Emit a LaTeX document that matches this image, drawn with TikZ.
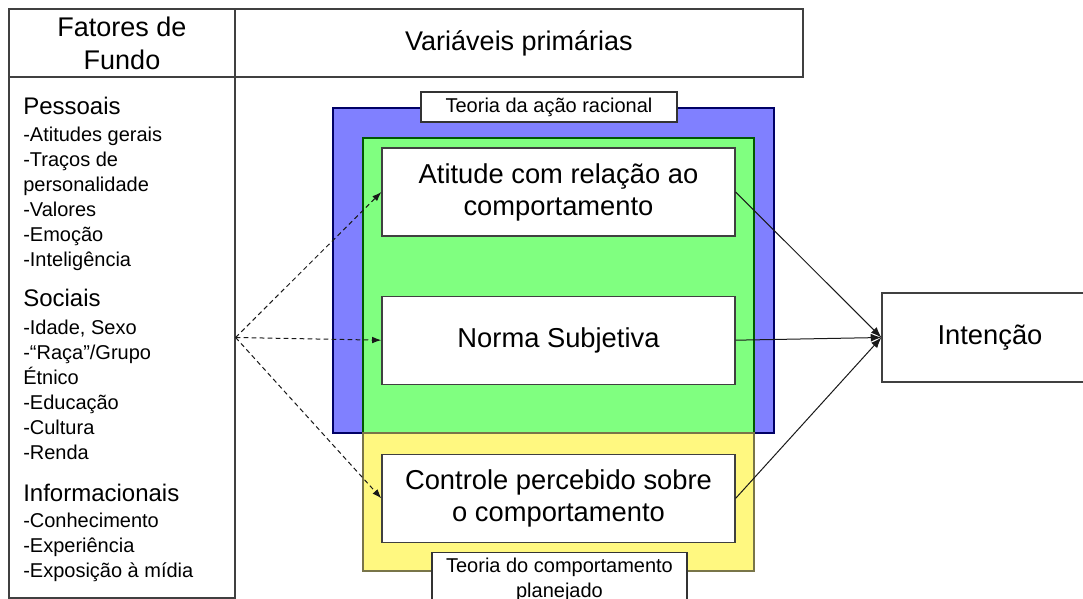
\documentclass[tikz,border=0pt]{standalone}
\usepackage{fontspec}
\setmainfont{Liberation Sans}
\usepackage{tikz}
\usetikzlibrary{positioning,%
  arrows.meta}

\begin{document}
\begin{tikzpicture}
  [x=0.75pt, y=-0.75pt,
   cab/.style={rectangle, draw=black!75, line width=0.9pt,
     align=center, minimum height=51pt, inner sep=0pt,
     font=\fontsize{20.25}{24.75}\selectfont},
   regiao/.style={rectangle, line width=0.8pt, inner sep=0pt},
   var/.style={rectangle, draw=black!75, line width=0.9pt,
     fill=white, align=center, inner sep=0pt,
     minimum width=264.75pt, minimum height=66pt,
     font=\fontsize{20.5}{24}\selectfont},
   teoria/.style={rectangle, draw=black!80, line width=0.8pt,
     fill=white, align=center, inner sep=0pt,
     font=\fontsize{15}{18.75}\selectfont},
   grupo/.style={anchor=base west, inner sep=0pt,
     font=\fontsize{18}{22}\selectfont},
   itens/.style={anchor=north west, inner sep=0pt, align=left,
     font=\fontsize{15}{18.75}\selectfont},
   fator/.style={-{Latex[length=7pt,width=5pt]}, dashed,
     dash pattern=on 3.5pt off 2.5pt, line width=0.75pt, black!90},
   efeito/.style={-{Latex[length=8pt,width=6pt]},
     line width=0.75pt, black!90}]

  \useasboundingbox (0,0) rectangle (1083,599);
  \clip (0,0) rectangle (1083,599);
  \fill[white] (0,0) rectangle (1083,599);

  % cabecalho
  \node[cab, minimum width=169.5pt] (fundo) at (122,43)
    {Fatores de\\Fundo};
  \node[cab, minimum width=426pt] (prim) at (519,43)
    {Variáveis primárias};
  \node[rectangle, draw=black!75, line width=0.9pt,
    minimum width=169.5pt, minimum height=390.75pt]
    (fatores) at (122,337.5) {};

  % fatores de fundo
  \node[grupo] (pes) at (23,115) {Pessoais};
  \node[itens] (pesl) at (23,126.7)
    {-Atitudes gerais\\-Traços de\\personalidade\\-Valores\\-Emoção\\-Inteligência};
  \node[grupo] (soc) at (23,307) {Sociais};
  \node[itens] (socl) at (23,319.4)
    {-Idade, Sexo\\-“Raça”/Grupo\\Étnico\\-Educação\\-Cultura\\-Renda};
  \node[grupo] (inf) at (23,501) {Informacionais};
  \node[itens] (infl) at (23,512.4)
    {-Conhecimento\\-Experiência\\-Exposição à mídia};

  % teorias
  \node[regiao, fill=blue!50, draw=blue!40!black,
    minimum width=330.75pt, minimum height=243.75pt]
    (tar) at (553.5,270.5) {};
  \node[regiao, fill=green!50, draw=green!35!black,
    minimum width=293.25pt, minimum height=221.25pt]
    (tarv) at (558.5,285.5) {};
  \node[regiao, fill=yellow!50, draw=yellow!40!black,
    minimum width=293.25pt, minimum height=103.5pt]
    (tcp) at (558.5,502) {};
  \node[teoria, minimum width=192pt, minimum height=22.5pt]
    (tarl) at (549,107) {Teoria da ação racional};
  \node[teoria, anchor=north, minimum width=191.25pt, minimum height=40.5pt]
    (tcpl) at (559.5,552) {Teoria do comportamento\\planejado};

  % variaveis
  \node[var] (atitude) at (558.5,192)
    {Atitude com relação ao\\comportamento};
  \node[var, below=44.25pt of atitude] (norma)
    {Norma Subjetiva};
  \node[var, below=51.75pt of norma] (controle)
    {Controle percebido sobre\\o comportamento};
  \node[var, minimum width=162pt, minimum height=66.75pt]
    (intencao) at (990,337.5) {Intenção};

  \path[fator]
    (fatores.east) edge (atitude.west)
    (fatores.east) edge (norma.west)
    (fatores.east) edge (controle.west);
  \path[efeito]
    (atitude.east)  edge (intencao.west)
    (norma.east)    edge (intencao.west)
    (controle.east) edge (intencao.west);
\end{tikzpicture}
\end{document}
